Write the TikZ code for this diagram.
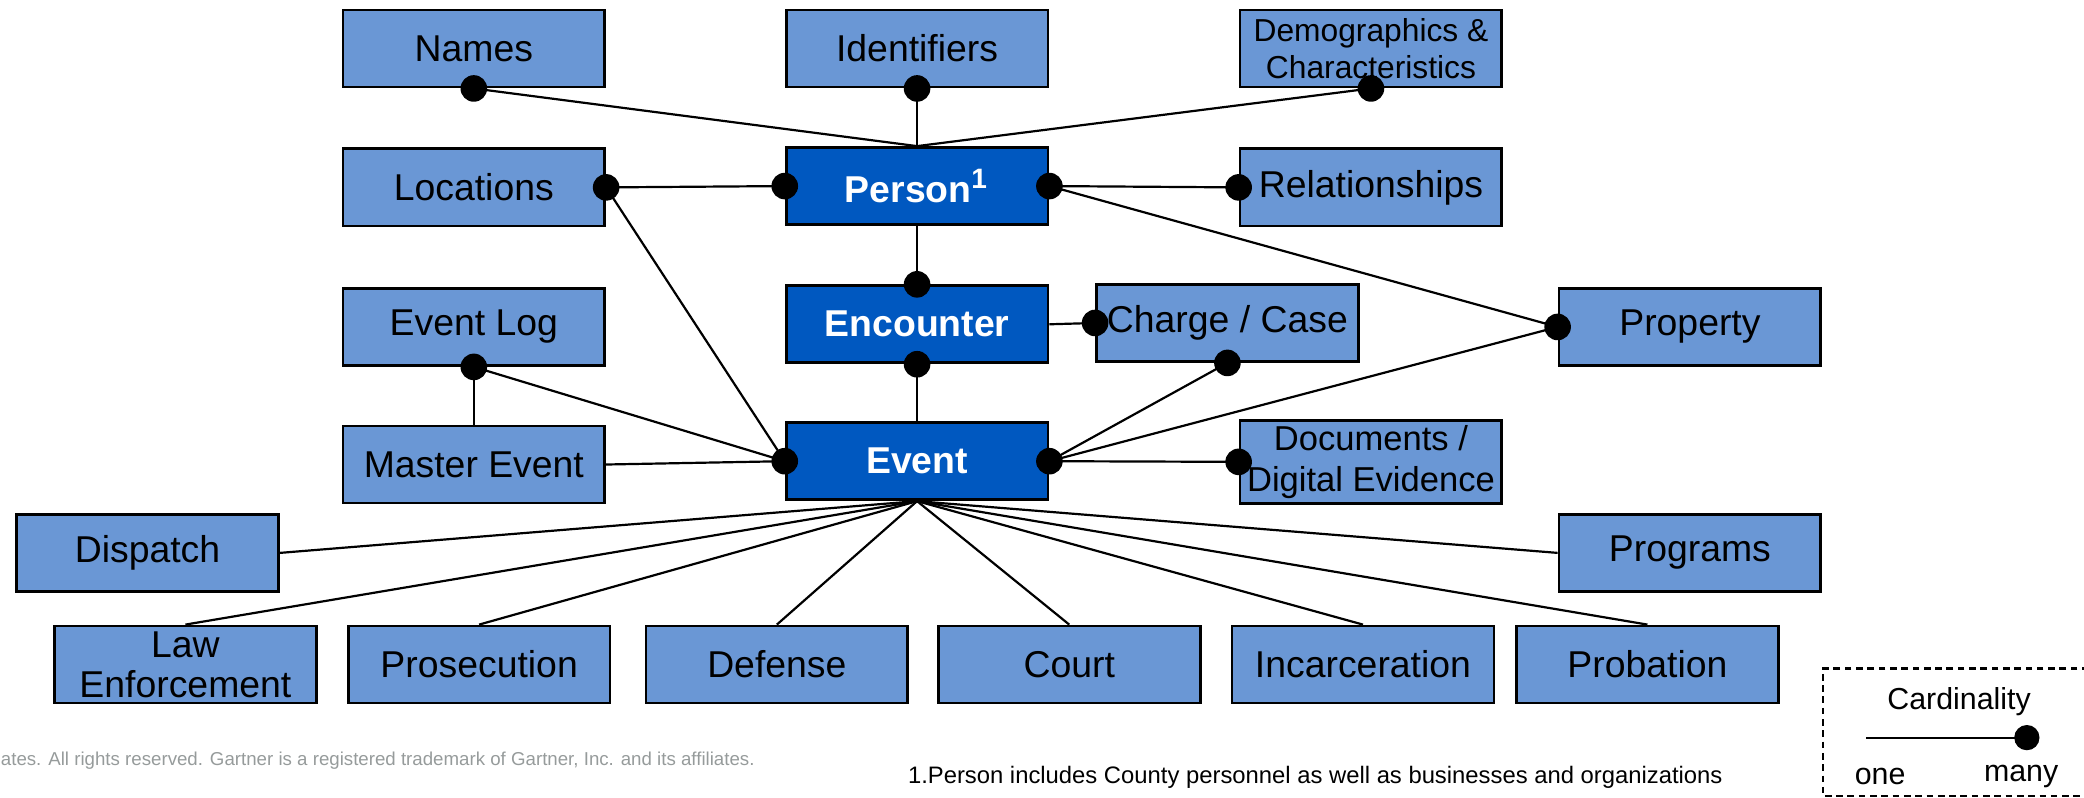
\documentclass[tikz,border=0pt]{standalone}
\usepackage{fontspec}
\setmainfont{Liberation Sans}
\usetikzlibrary{positioning}

\definecolor{boxblue}{RGB}{106,151,213}
\definecolor{coreblue}{RGB}{0,88,192}
\definecolor{notegray}{RGB}{150,155,155}

\tikzset{
  entity/.style={draw=black, line width=0.6pt, fill=boxblue, minimum width=1.97cm, minimum height=0.58cm,
    inner xsep=0pt, inner ysep=1pt, align=center, font=\fontsize{8}{8.5}\selectfont},
  core/.style={entity, fill=coreblue, text=white, font=\fontsize{8}{8.5}\selectfont\bfseries},
  link/.style={line width=0.47pt},
}
\newcommand{\dotr}{0.1}

\begin{document}
\begin{tikzpicture}
\useasboundingbox (0,0) rectangle (15.68,-6.004);

% top row
\node[entity] (names) at (3.565,-0.365) {Names};
\node[entity] (ident) at (6.90,-0.365) {Identifiers};
\node[entity, font=\fontsize{6.8}{7.8}\selectfont] (demo) at (10.315,-0.365) {Demographics \&\\Characteristics};

\node[entity] (locations) at (3.565,-1.41) {Locations};
\node[core] (person) at (6.90,-1.40) {Person\textsuperscript{1}};
\node[entity] (relations) at (10.315,-1.41) {Relationships};

\node[entity] (eventlog) at (3.565,-2.46) {Event Log};
\node[core] (encounter) at (6.90,-2.44) {Encounter};
\node[entity] (charge) at (9.235,-2.43) {Charge / Case};
\node[entity] (property) at (12.715,-2.46) {Property};

\node[entity] (master) at (3.565,-3.495) {Master Event};
\node[core] (event) at (6.90,-3.47) {Event};
\node[entity, font=\fontsize{7.4}{8.9}\selectfont] (docs) at (10.315,-3.475) {Documents /\\Digital Evidence};

\node[entity] (dispatch) at (1.11,-4.16) {Dispatch};
\node[entity] (programs) at (12.715,-4.16) {Programs};

% bottom row
\node[entity] (law) at (1.395,-5.0) {Law\\Enforcement};
\node[entity] (prosecution) at (3.605,-5.0) {Prosecution};
\node[entity] (defense) at (5.845,-5.0) {Defense};
\node[entity] (court) at (8.045,-5.0) {Court};
\node[entity] (incarc) at (10.255,-5.0) {Incarceration};
\node[entity] (probation) at (12.395,-5.0) {Probation};

% person links
\draw[link] (names.south) -- (person.north);
\draw[link] (ident.south) -- (person.north);
\draw[link] (demo.south) -- (person.north);
\draw[link] (locations.east) -- (person.west);
\draw[link] (person.east) -- (relations.west);
\draw[link] (person.east) -- (property.west);
\draw[link] (person.south) -- (encounter.north);

% encounter and event links
\draw[link] (encounter.east) -- (charge.west);
\draw[link] (encounter.south) -- (event.north);
\draw[link] (locations.east) -- (event.west);
\draw[link] (eventlog.south) -- (master.north);
\draw[link] (eventlog.south) -- (event.west);
\draw[link] (master.east) -- (event.west);
\draw[link] (charge.south) -- (event.east);
\draw[link] (property.west) -- (event.east);
\draw[link] (event.east) -- (docs.west);

\foreach \n/\a in {dispatch/east, programs/west, law/north, prosecution/north,
  defense/north, court/north, incarc/north, probation/north}
  \draw[link] (event.south) -- (\n.\a);

% many ends
\foreach \p in {names.south, ident.south, demo.south, locations.east, person.west,
  person.east, relations.west, property.west, encounter.north, charge.west,
  encounter.south, event.west, eventlog.south, charge.south, event.east, docs.west}
  \fill (\p) circle (\dotr);

% notes
\node[anchor=west, inner sep=0, text=notegray, font=\fontsize{4}{5}\selectfont] (copyright) at (0,-5.72)
  {ates. All rights reserved. Gartner is a registered trademark of Gartner, Inc. and its affiliates.};
\node[anchor=west, inner sep=0, font=\fontsize{5.1}{6}\selectfont] (footnote) at (6.825,-5.85)
  {1.Person includes County personnel as well as businesses and organizations};

% legend
\draw[line width=0.5pt, dash pattern=on 0.05cm off 0.035cm] (15.8,-5.03) -- (13.715,-5.03) -- (13.715,-5.99) -- (15.8,-5.99);
\node[font=\fontsize{6.5}{7}\selectfont] (cardtitle) at (14.74,-5.28) {Cardinality};
\coordinate (legone) at (14.04,-5.55);
\coordinate (legmany) at (15.25,-5.55);
\draw[link] (legone) -- (legmany);
\fill (legmany) circle (0.095);
\node[font=\fontsize{6.5}{7}\selectfont] (onelbl) at (14.146,-5.844) {one};
\node[font=\fontsize{6.5}{7}\selectfont] (manylbl) at (15.207,-5.844) {many};
\end{tikzpicture}
\end{document}
